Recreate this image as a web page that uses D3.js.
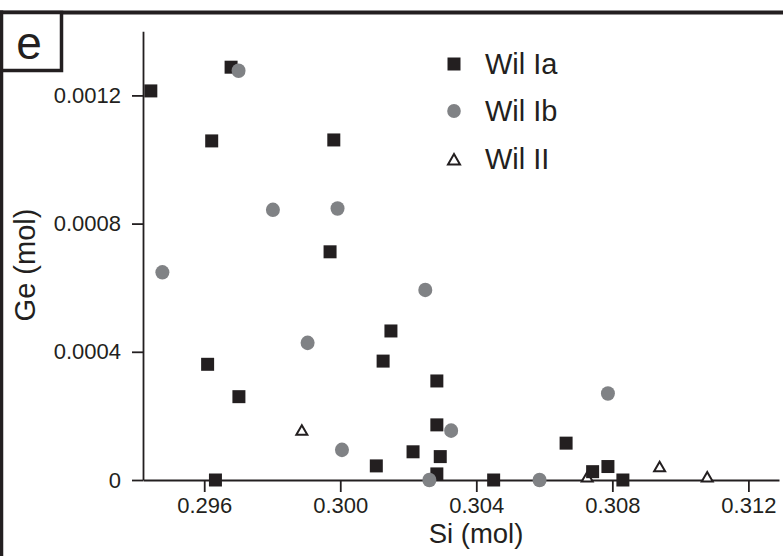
<!DOCTYPE html>
<html>
<head>
<meta charset="utf-8">
<script src="https://cdn.jsdelivr.net/npm/d3@7/dist/d3.min.js"></script>
<style>
  html, body { margin: 0; padding: 0; background: #fff; }
  svg { display: block; }
  text { font-family: "Liberation Sans", Arial, Helvetica, sans-serif; fill: #231f20; }
</style>
</head>
<body>
<svg id="chart" width="783" height="556"></svg>
<script>
// ---- data ----
const categories = ["Wil Ia", "Wil Ib", "Wil II"];
const wilIaSi = [0.29443, 0.29679, 0.29622, 0.29981, 0.29970, 0.29610, 0.29702, 0.29633,
                 0.30106, 0.30149, 0.30126, 0.30284, 0.30284, 0.30214, 0.30294, 0.30284,
                 0.30451, 0.30664, 0.30742, 0.30787, 0.30831];
const wilIaGe = [0.001214, 0.001288, 0.001058, 0.001061, 0.000712, 0.000361, 0.000260, 0.0,
                 0.000044, 0.000465, 0.000371, 0.000309, 0.000172, 0.000088, 0.000073, 0.000019,
                 0.0, 0.000115, 0.000026, 0.000042, 0.0];
const wilIbSi = [0.29701, 0.29802, 0.29992, 0.29477, 0.29904, 0.30005, 0.30326, 0.30262,
                 0.30586, 0.30787, 0.30250];
const wilIbGe = [0.001277, 0.000843, 0.000847, 0.000648, 0.000428, 0.000094, 0.000154, 0.0,
                 0.0, 0.000270, 0.000593];
const wilIISi = [0.29887, 0.30726, 0.30939, 0.31079];
const wilIIGe = [0.000156, 0.000010, 0.000042, 0.000010];
const xTicks = [0.296, 0.300, 0.304, 0.308, 0.312];
const yTicks = [0, 0.0004, 0.0008, 0.0012];
const xTickLabels = ["0.296", "0.300", "0.304", "0.308", "0.312"];
const yTickLabels = ["0", "0.0004", "0.0008", "0.0012"];
const xTitle = "Si (mol)";
const yTitle = "Ge (mol)";
const panelLabel = "e";

// ---- layout ----
const svg = d3.select("#chart");
const dark = "#231f20";
const grey = "#808285";

const x = d3.scaleLinear().domain([0.2942, 0.3129]).range([143, 779]);
const y = d3.scaleLinear().domain([0, 0.0014]).range([480, 31.3]);

// frame (top & left borders)
svg.append("line").attr("x1", 0).attr("x2", 783).attr("y1", 12.5).attr("y2", 12.5)
  .attr("stroke", dark).attr("stroke-width", 4);
svg.append("line").attr("x1", 1.5).attr("x2", 1.5).attr("y1", 10.5).attr("y2", 556)
  .attr("stroke", dark).attr("stroke-width", 3.5);

// panel label box
svg.append("rect").attr("x", 1.5).attr("y", 12.5).attr("width", 60).attr("height", 58)
  .attr("fill", "#fff").attr("stroke", dark).attr("stroke-width", 3.5);
svg.append("text").attr("x", 29).attr("y", 59).attr("text-anchor", "middle")
  .attr("font-size", 46).text(panelLabel);

// axes
const xAxis = d3.axisBottom(x).tickValues(xTicks)
  .tickFormat((d, i) => xTickLabels[i]).tickSize(12).tickSizeOuter(0).tickPadding(5);
const yAxis = d3.axisLeft(y).tickValues(yTicks)
  .tickFormat((d, i) => yTickLabels[i]).tickSize(11).tickSizeOuter(0).tickPadding(11);

const gx = svg.append("g").attr("transform", "translate(0,480)").call(xAxis);
const gy = svg.append("g").attr("transform", "translate(143,0)").call(yAxis);
[gx, gy].forEach(g => {
  g.selectAll("path.domain").attr("stroke", dark).attr("stroke-width", 1.8);
  g.selectAll(".tick line").attr("stroke", dark).attr("stroke-width", 1.8);
  g.selectAll(".tick text").attr("font-size", 22).attr("fill", dark)
    .attr("font-family", "'Liberation Sans', Arial, Helvetica, sans-serif");
});

// axis titles
svg.append("text").attr("x", 476).attr("y", 543).attr("text-anchor", "middle")
  .attr("font-size", 27.5).text(xTitle);
svg.append("text").attr("transform", "translate(35,265) rotate(-90)")
  .attr("text-anchor", "middle").attr("font-size", 29).text(yTitle);

// symbols
const sqSym = d3.symbol().type(d3.symbolSquare).size(13 * 13);
const triSide = 11;
const triH = triSide * Math.sqrt(3) / 2;
const triSym = d3.symbol().type(d3.symbolTriangle).size(triSide * triSide * Math.sqrt(3) / 4);

const plot = svg.append("g");

// Wil II (open triangles)
plot.selectAll("path.t").data(wilIISi.map((s, i) => [s, wilIIGe[i]])).join("path")
  .attr("class", "t").attr("d", triSym)
  .attr("transform", d => `translate(${x(d[0])},${y(d[1]) + triH / 6})`)
  .attr("fill", "#fff").attr("stroke", dark).attr("stroke-width", 2);

// Wil Ia (squares)
plot.selectAll("path.s").data(wilIaSi.map((s, i) => [s, wilIaGe[i]])).join("path")
  .attr("class", "s").attr("d", sqSym)
  .attr("transform", d => `translate(${x(d[0])},${y(d[1])})`)
  .attr("fill", dark);

// Wil Ib (grey circles)
plot.selectAll("ellipse.c").data(wilIbSi.map((s, i) => [s, wilIbGe[i]])).join("ellipse")
  .attr("class", "c").attr("cx", d => x(d[0])).attr("cy", d => y(d[1]))
  .attr("rx", 7).attr("ry", 7.3).attr("fill", grey);

// legend
const legY = [64, 111, 159.3];
const lg = svg.append("g");
lg.append("path").attr("d", d3.symbol().type(d3.symbolSquare).size(13 * 13))
  .attr("transform", `translate(454,${legY[0]})`).attr("fill", dark);
lg.append("ellipse").attr("cx", 454).attr("cy", legY[1]).attr("rx", 6.8).attr("ry", 7)
  .attr("fill", grey);
lg.append("path").attr("d", d3.symbol().type(d3.symbolTriangle).size(12 * 12 * Math.sqrt(3) / 4))
  .attr("transform", `translate(454,${legY[2] + 12 * Math.sqrt(3) / 2 / 6})`)
  .attr("fill", "#fff").attr("stroke", dark).attr("stroke-width", 2);
categories.forEach((c, i) => {
  lg.append("text").attr("x", 485).attr("y", legY[i] + 10).attr("font-size", 29).text(c);
});
</script>
</body>
</html>
